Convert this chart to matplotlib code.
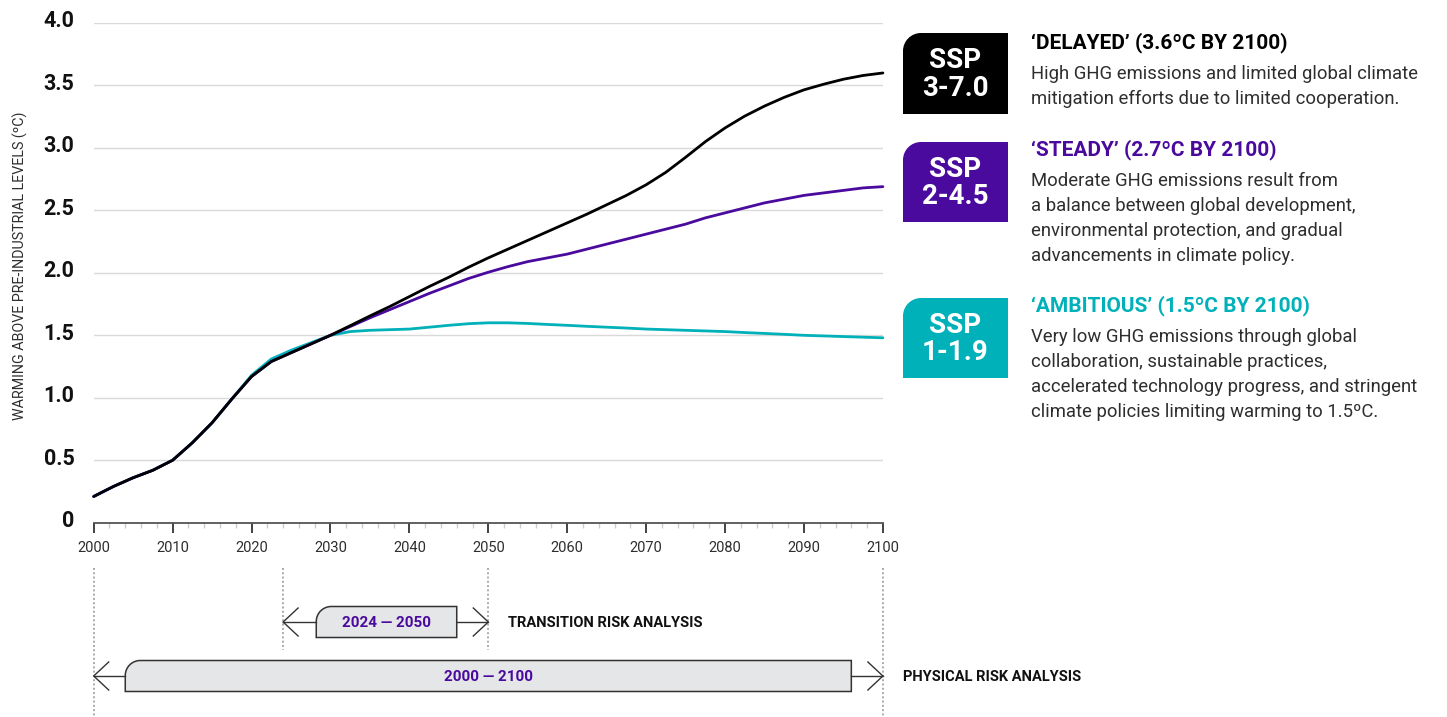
import numpy as np
import matplotlib
matplotlib.use('Agg')
import matplotlib.pyplot as plt
from matplotlib.path import Path
from matplotlib.patches import PathPatch
import matplotlib.transforms as mtransforms

plt.rcParams['font.family'] = ['Roboto', 'DejaVu Sans']

# Shared history (all scenarios follow the same path up to ~2030)
hist_years = [2000, 2002.5, 2005, 2007.5, 2010, 2012.5, 2015, 2017.5, 2020, 2022.5, 2025, 2027.5]
hist_vals = [0.21, 0.29, 0.36, 0.42, 0.50, 0.64, 0.80, 0.99, 1.17, 1.29, 1.36, 1.43]
hist_vals_119 = [0.21, 0.29, 0.36, 0.42, 0.50, 0.64, 0.80, 0.99, 1.18, 1.31, 1.38, 1.44]

future_years = [2030, 2032.5, 2035, 2037.5, 2040, 2042.5, 2045, 2047.5, 2050, 2052.5,
                2055, 2057.5, 2060, 2062.5, 2065, 2067.5, 2070, 2072.5, 2075, 2077.5,
                2080, 2082.5, 2085, 2087.5, 2090, 2092.5, 2095, 2097.5, 2100]
ssp370 = [1.50, 1.577, 1.655, 1.73, 1.81, 1.89, 1.965, 2.045, 2.12, 2.19,
          2.26, 2.33, 2.40, 2.47, 2.545, 2.62, 2.705, 2.805, 2.925, 3.05,
          3.16, 3.255, 3.335, 3.405, 3.465, 3.51, 3.55, 3.58, 3.60]
ssp245 = [1.50, 1.57, 1.64, 1.705, 1.77, 1.835, 1.895, 1.955, 2.005, 2.05,
          2.09, 2.12, 2.15, 2.19, 2.23, 2.27, 2.31, 2.35, 2.39, 2.44,
          2.48, 2.52, 2.56, 2.59, 2.62, 2.64, 2.66, 2.68, 2.69]
ssp119 = [1.50, 1.53, 1.54, 1.545, 1.55, 1.565, 1.58, 1.593, 1.60, 1.60,
          1.595, 1.587, 1.58, 1.572, 1.565, 1.558, 1.55, 1.545, 1.54, 1.535,
          1.53, 1.522, 1.515, 1.508, 1.50, 1.495, 1.49, 1.485, 1.48]

y_ticks = [0, 0.5, 1.0, 1.5, 2.0, 2.5, 3.0, 3.5, 4.0]
y_ticklabels = ['0', '0.5', '1.0', '1.5', '2.0', '2.5', '3.0', '3.5', '4.0']

BLACK = '#000000'
PURPLE = '#4a0a9e'
TEAL = '#00b1b9'
GREY_TXT = '#2e2e2e'

W, H = 1447, 717
fig = plt.figure(figsize=(W / 100, H / 100), dpi=100)

# main chart axes
ax = fig.add_axes([93.7 / W, 1 - 522.7 / H, (882.9 - 93.7) / W, (522.7 - 23) / H])
ax.set_xlim(2000, 2100)
ax.set_ylim(0, 4)

ax.plot(hist_years + future_years, hist_vals_119 + ssp119, color=TEAL, lw=2.0,
        solid_capstyle='round', solid_joinstyle='round', clip_on=False, zorder=3)
ax.plot(hist_years + future_years, hist_vals + ssp245, color=PURPLE, lw=2.0,
        solid_capstyle='round', solid_joinstyle='round', clip_on=False, zorder=4)
ax.plot(hist_years + future_years, hist_vals + ssp370, color=BLACK, lw=2.0,
        solid_capstyle='round', solid_joinstyle='round', clip_on=False, zorder=5)

for s in ['top', 'right', 'left']:
    ax.spines[s].set_visible(False)
ax.spines['bottom'].set_color('#555555')
ax.spines['bottom'].set_linewidth(1.3)

ax.set_yticks(y_ticks)
ax.set_yticklabels(y_ticklabels, fontsize=15.5, fontweight='bold', color='#111111')
ax.yaxis.grid(True, color='#d9d9d9', lw=1.0)
ax.set_axisbelow(True)
ax.tick_params(axis='y', length=0, pad=14)
shift = mtransforms.ScaledTranslation(0, 4 / 100, fig.dpi_scale_trans)
for lbl in ax.get_yticklabels():
    lbl.set_transform(lbl.get_transform() + shift)

ax.set_xticks(range(2000, 2101, 10))
ax.set_xticks(np.arange(2000, 2101, 2), minor=True)
ax.tick_params(axis='x', which='major', length=7.5, width=1.2, color='#222222',
               labelsize=10.5, labelcolor=GREY_TXT, pad=6)
ax.tick_params(axis='x', which='minor', length=3.5, width=1.0, color='#cccccc')

fig.text(20 / W, 1 - 266 / H, 'WARMING ABOVE PRE-INDUSTRIAL LEVELS (ºC)', rotation=90,
         ha='center', va='center', fontsize=10.3, color=GREY_TXT)


def tab_path(x0, x1, y0, y1, rx, ry):
    # box with only the top-left corner rounded (y grows downward)
    k = 0.5523
    verts = [(x0, y1), (x0, y0 + ry),
             (x0, y0 + ry * (1 - k)), (x0 + rx * (1 - k), y0), (x0 + rx, y0),
             (x1, y0), (x1, y1), (x0, y1), (x0, y1)]
    codes = [Path.MOVETO, Path.LINETO,
             Path.CURVE4, Path.CURVE4, Path.CURVE4,
             Path.LINETO, Path.LINETO, Path.LINETO, Path.CLOSEPOLY]
    return Path(verts, codes)


# bottom timeline axes, x shared in years, y in pixels
bx = fig.add_axes([93.7 / W, 0, (882.9 - 93.7) / W, 1])
bx.set_xlim(2000, 2100)
bx.set_ylim(H, 0)
bx.axis('off')
bx.patch.set_visible(False)

px_per_year = (882.9 - 93.7) / 100
for yr, top, bot in [(2000, 568, 717), (2024, 568, 650), (2050, 568, 650), (2100, 568, 717)]:
    bx.plot([yr, yr], [top, bot], color='#aaaaaa', lw=1.4, ls=(0, (1, 1.2)), clip_on=False)

ranges = [(2024, 2050, 2028.2, 2046, 622, '2024 — 2050'),
          (2000, 2100, 2004, 2096, 676, '2000 — 2100')]
for start, end, bx0, bx1, yc, label in ranges:
    arm = 15 / px_per_year
    bx.plot([start, bx0], [yc, yc], color='#333333', lw=1.0, clip_on=False)
    bx.plot([bx1, end], [yc, yc], color='#333333', lw=1.0, clip_on=False)
    bx.plot([start + arm, start, start + arm], [yc - 14, yc, yc + 14], color='#333333',
            lw=1.0, clip_on=False)
    bx.plot([end - arm, end, end - arm], [yc - 14, yc, yc + 14], color='#333333',
            lw=1.0, clip_on=False)
    p = tab_path(bx0, bx1, yc - 15.5, yc + 15.5, 15 / px_per_year, 15)
    bx.add_patch(PathPatch(p, facecolor='#e5e6e8', edgecolor='#333333', lw=1.1, clip_on=False))
    bx.text((bx0 + bx1) / 2, yc + 1, label, ha='center', va='center', fontsize=11,
            fontweight='bold', color=PURPLE)

# right-hand panel in pixel coordinates
ov = fig.add_axes([0, 0, 1, 1])
ov.set_xlim(0, W)
ov.set_ylim(H, 0)
ov.axis('off')
ov.patch.set_visible(False)

ov.text(508, 623, 'TRANSITION RISK ANALYSIS', ha='left', va='center', fontsize=10.5,
        fontweight='bold', color='#111111')
ov.text(903, 677, 'PHYSICAL RISK ANALYSIS', ha='left', va='center', fontsize=10.5,
        fontweight='bold', color='#111111')

scenarios = [
    ('SSP\n3-7.0', BLACK, 33, 114, "‘DELAYED’ (3.6ºC BY 2100)", 43,
     ['High GHG emissions and limited global climate',
      'mitigation efforts due to limited cooperation.']),
    ('SSP\n2-4.5', PURPLE, 142, 222, "‘STEADY’ (2.7ºC BY 2100)", 150,
     ['Moderate GHG emissions result from',
      'a balance between global development,',
      'environmental protection, and gradual',
      'advancements in climate policy.']),
    ('SSP\n1-1.9', TEAL, 298, 378, "‘AMBITIOUS’ (1.5ºC BY 2100)", 306,
     ['Very low GHG emissions through global',
      'collaboration, sustainable practices,',
      'accelerated technology progress, and stringent',
      'climate policies limiting warming to 1.5ºC.']),
]
for badge, col, top, bot, head, hy, lines in scenarios:
    ov.add_patch(PathPatch(tab_path(903, 1008, top, bot, 18, 18), facecolor=col,
                           edgecolor='none'))
    ov.text(955.5, (top + bot) / 2 + 1, badge, ha='center', va='center', fontsize=20,
            fontweight='bold', color='white', linespacing=1.0)
    ov.text(1031, hy, head, ha='left', va='center', fontsize=15, fontweight='bold', color=col)
    for i, line in enumerate(lines):
        ov.text(1031, hy + 31 + 25 * i, line, ha='left', va='center', fontsize=13.3,
                color=GREY_TXT)

fig.savefig('out.png', dpi=100)
